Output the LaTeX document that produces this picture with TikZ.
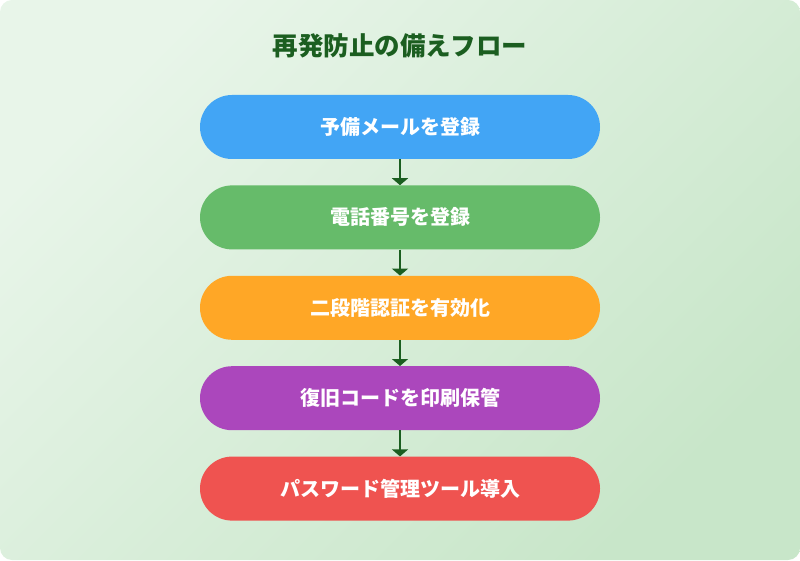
\documentclass[tikz,border=0pt]{standalone}
\usepackage{fontspec}
\newfontfamily\cjk{Noto Sans CJK JP}
\usetikzlibrary{positioning,arrows.meta}
\definecolor{pozadiA}{HTML}{E8F5E9}
\definecolor{pozadiB}{HTML}{C8E6C9}
\definecolor{tmava}{HTML}{1B5E20}
\definecolor{modra}{HTML}{42A5F5}
\definecolor{zelena}{HTML}{66BB6A}
\definecolor{oranzova}{HTML}{FFA726}
\definecolor{fialova}{HTML}{AB47BC}
\definecolor{cervena}{HTML}{EF5350}
\begin{document}
\begin{tikzpicture}[x=1pt,y=1pt,
    krok/.style={rounded corners=32pt,minimum width=400pt,minimum height=64pt,inner sep=0pt,
      text=white,font=\cjk\bfseries\fontsize{20}{24}\selectfont},
    sipka/.style={draw=tmava,line width=2.2pt,-{Triangle[width=16pt,length=7pt]}}]
    \useasboundingbox (0,0) rectangle (800,560);
    \shade[rounded corners=12pt,top color=pozadiA,bottom color=pozadiB,shading angle=45] (0,0) rectangle (800,560);

    \node[text=tmava,font=\cjk\bfseries\fontsize{25.5}{30}\selectfont] (nadpis) at (400,514) {再発防止の備えフロー};

    \node[krok,fill=modra] (a) at (400,433) {予備メールを登録};
    \node[krok,fill=zelena,below=26pt of a] (b) {電話番号を登録};
    \node[krok,fill=oranzova,below=26pt of b] (c) {二段階認証を有効化};
    \node[krok,fill=fialova,below=26pt of c] (d) {復旧コードを印刷保管};
    \node[krok,fill=cervena,below=26pt of d] (e) {パスワード管理ツール導入};

    \foreach \i/\j in {a/b,b/c,c/d,d/e}
        \draw[sipka] (\i) -- (\j);

\end{tikzpicture}
\end{document}
